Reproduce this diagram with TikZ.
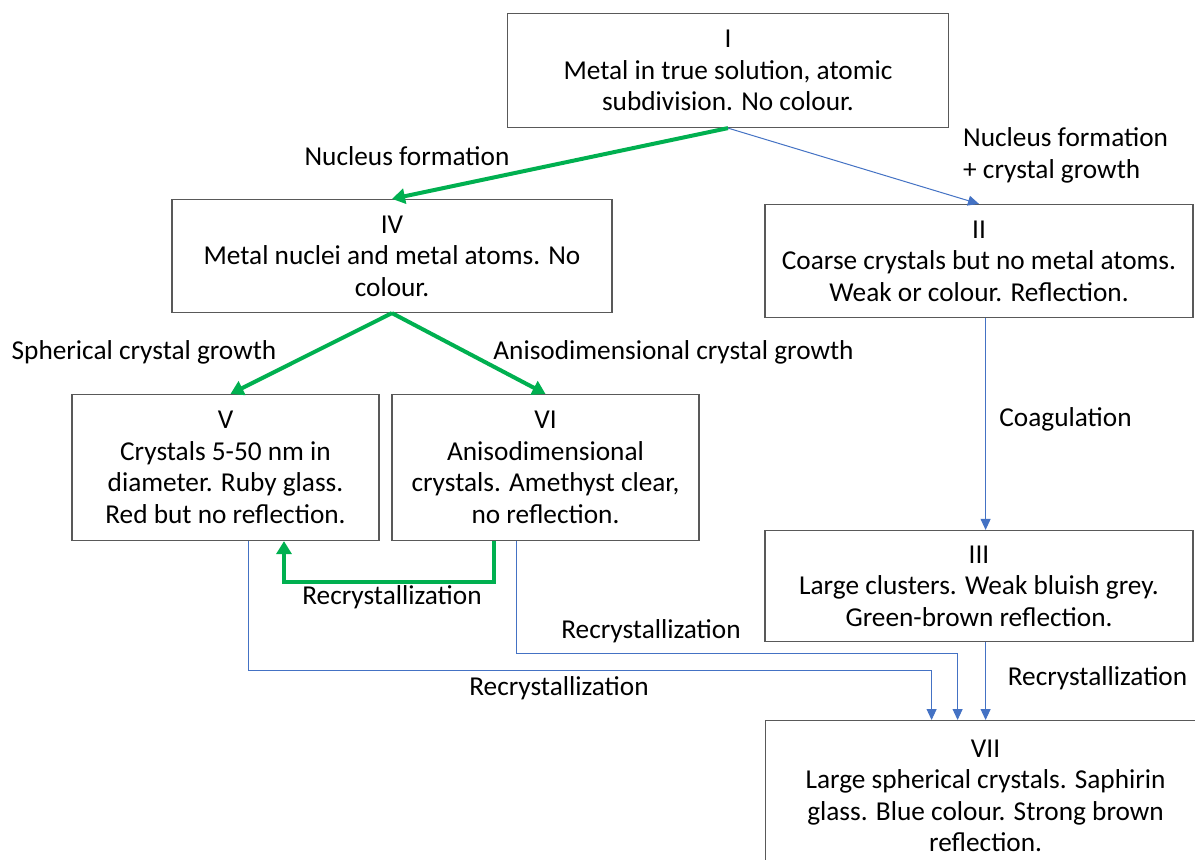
\documentclass[tikz,border=0pt]{standalone}
\usepackage{fontspec}
\setmainfont{Carlito}
\usetikzlibrary{arrows.meta}
\definecolor{grn}{HTML}{00B050}
\definecolor{blu}{HTML}{4472C4}
\definecolor{bordc}{HTML}{595959}
\begin{document}
\begin{tikzpicture}[x=1pt,y=-1pt,
  txt/.style={font=\fontsize{27.3}{31.5}\selectfont},
  box/.style={txt, draw=bordc, line width=1.2pt, align=center, inner sep=0pt},
  lbl/.style={txt, align=left, inner sep=0pt},
  garrow/.style={draw=grn, line width=4pt, -{Triangle[length=13pt,width=15pt]}},
  barrow/.style={draw=blu, line width=1pt, -{Triangle[length=11pt,width=10pt]}}]
\useasboundingbox (0,0) rectangle (1195,860);
\clip (0,0) rectangle (1195,860);
\fill[white] (0,0) rectangle (1195,860);

% boxes
\node[box, minimum width=441pt, minimum height=114pt] (I) at (728,70.5)
  {I\\Metal in true solution, atomic\\subdivision. No colour.};
\node[box, minimum width=440pt, minimum height=113pt] (IV) at (392,256)
  {IV\\Metal nuclei and metal atoms. No\\colour.};
\node[box, minimum width=428pt, minimum height=113pt] (II) at (979,261)
  {II\\Coarse crystals but no metal atoms.\\Weak or colour. Reflection.};
\node[box, minimum width=307pt, minimum height=146pt] (V) at (225.5,467.5)
  {V\\Crystals 5-50 nm in\\diameter. Ruby glass.\\Red but no reflection.};
\node[box, minimum width=307pt, minimum height=146pt] (VI) at (545.5,467.5)
  {VI\\Anisodimensional\\crystals. Amethyst clear,\\no reflection.};
\node[box, minimum width=428pt, minimum height=111pt] (III) at (979,586)
  {III\\Large clusters. Weak bluish grey.\\Green-brown reflection.};
\node[box, minimum width=440pt, minimum height=150pt, anchor=north west] (VII) at (765,720)
  {VII\\Large spherical crystals. Saphirin\\glass. Blue colour. Strong brown\\reflection.};

% labels
\node[lbl] (l1) at (407,156) {Nucleus formation};
\node[lbl, anchor=west] (l2) at (963,155.5) {Nucleus formation\\+ crystal growth};
\node[lbl] (l3) at (144,352) {Spherical crystal growth};
\node[lbl] (l4) at (673.5,352) {Anisodimensional crystal growth};
\node[lbl] (l5) at (1065.5,419) {Coagulation};
\node[lbl] (l6) at (392,597) {Recrystallization};
\node[lbl] (l7) at (651,631) {Recrystallization};
\node[lbl] (l8) at (559,688) {Recrystallization};
\node[lbl] (l9) at (1097.5,678) {Recrystallization};

% connectors
\draw[garrow] (I.south) -- (IV.north);
\draw[barrow] (I.south) -- (II.north);
\draw[garrow] (IV.south) -- ([xshift=5pt]V.north);
\draw[garrow] (IV.south) -- (VI.north);
\draw[garrow] ([xshift=-51.5pt]VI.south) -- ++(0,41) -| ([xshift=58.5pt]V.south);
\draw[barrow] (II.south -| VII.north) -- (III.north -| VII.north);
\draw[barrow] (III.south -| VII.north) -- (VII.north);
\draw[barrow] ([xshift=22.5pt]V.south) -- ++(0,129) -| ([xshift=-54pt]VII.north);
\draw[barrow] ([xshift=-29.5pt]VI.south) -- ++(0,112) -| ([xshift=-28pt]VII.north);
\end{tikzpicture}
\end{document}
